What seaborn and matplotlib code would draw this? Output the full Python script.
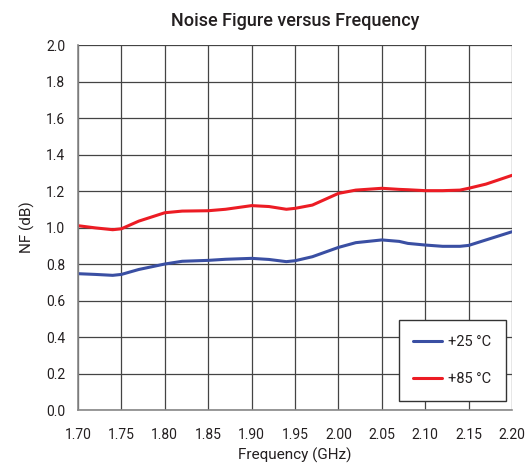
import matplotlib.pyplot as plt
import seaborn as sns
import pandas as pd
from matplotlib.ticker import MultipleLocator

# Values
freq = [1.70, 1.72, 1.74, 1.75, 1.77, 1.80, 1.82, 1.85, 1.87, 1.90, 1.92, 1.94,
        1.95, 1.97, 2.00, 2.02, 2.05, 2.07, 2.08, 2.10, 2.12, 2.14, 2.15, 2.17, 2.20]
nf_25 = [0.747, 0.743, 0.738, 0.743, 0.770, 0.800, 0.815, 0.820, 0.826, 0.831, 0.825, 0.813,
         0.818, 0.840, 0.891, 0.917, 0.932, 0.924, 0.913, 0.904, 0.897, 0.897, 0.902, 0.932, 0.977]
nf_85 = [1.010, 0.998, 0.988, 0.993, 1.035, 1.081, 1.090, 1.092, 1.100, 1.120, 1.115, 1.100,
         1.105, 1.123, 1.187, 1.205, 1.215, 1.209, 1.207, 1.202, 1.202, 1.205, 1.215, 1.238, 1.286]
labels = ['+25 °C', '+85 °C']
colors = ['#3a4fa3', '#ec1c24']

df = pd.DataFrame({
    'freq': freq * 2,
    'nf': nf_25 + nf_85,
    'temp': [labels[0]] * len(freq) + [labels[1]] * len(freq),
})

sns.set_style('white')
plt.rcParams['font.family'] = ['Roboto', 'DejaVu Sans']
text_col = '#231f20'

fig = plt.figure(figsize=(5.29, 4.74), dpi=100)
ax = fig.add_axes([0.1474, 0.135, 0.8206, 0.770])

sns.lineplot(data=df, x='freq', y='nf', hue='temp', palette=colors,
             linewidth=2.2, ax=ax)

ax.set_xlim(1.70, 2.20)
ax.set_ylim(0, 2.0)
ax.xaxis.set_major_locator(MultipleLocator(0.05))
ax.xaxis.set_minor_locator(MultipleLocator(0.01))
ax.yaxis.set_major_locator(MultipleLocator(0.2))
ax.yaxis.set_minor_locator(MultipleLocator(0.1))
ax.xaxis.set_major_formatter(plt.FormatStrFormatter('%.2f'))
ax.yaxis.set_major_formatter(plt.FormatStrFormatter('%.1f'))

ax.grid(True, which='major', color='#444444', linewidth=0.9)
ax.set_axisbelow(True)
for s in ['top', 'right']:
    ax.spines[s].set_visible(False)
for s in ['left', 'bottom']:
    ax.spines[s].set_color('#888888')
    ax.spines[s].set_linewidth(1.2)

ax.tick_params(which='major', direction='inout', length=6, width=1, color='#888888',
               labelsize=10, labelcolor=text_col, pad=6)
ax.tick_params(which='minor', direction='in', length=3, width=0.8, color='#888888')
ax.tick_params(axis='x', which='major', pad=10)

ax.set_title('Noise Figure versus Frequency', fontsize=13, fontweight='medium',
             color=text_col, pad=14)
ax.set_xlabel('Frequency (GHz)', fontsize=11, color=text_col, labelpad=4)
ax.set_ylabel('NF (dB)', fontsize=11, color=text_col, labelpad=8)

leg = ax.legend(loc='lower right', bbox_to_anchor=(0.986, 0.025), frameon=True,
                fancybox=False, edgecolor='#333333', framealpha=1,
                fontsize=10.5, handlelength=2.0, handletextpad=0.4,
                labelspacing=1.6, borderpad=1.0, borderaxespad=0)
leg.get_frame().set_linewidth(1.0)
for t in leg.get_texts():
    t.set_color(text_col)

fig.savefig('out.png', dpi=100)
